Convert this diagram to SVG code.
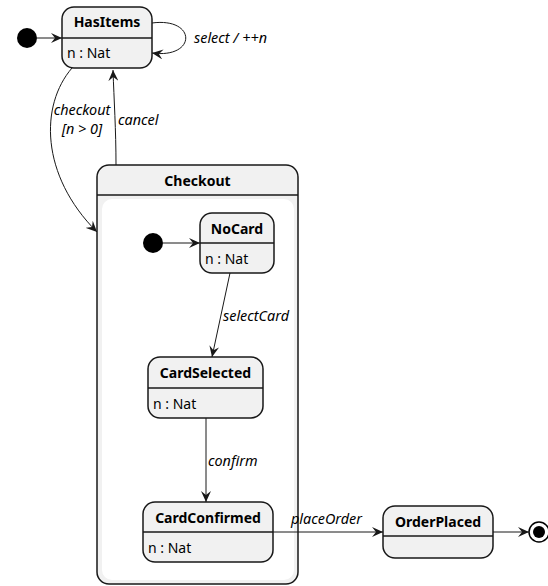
<svg xmlns="http://www.w3.org/2000/svg" width="548" height="586" viewBox="0 0 548 586">
<defs>
<style>
.st{fill:#F1F1F1;stroke:#181818;stroke-width:1.5}
.sep{stroke:#181818;stroke-width:1.5}
.nm{font-family:"Noto Sans",sans-serif;font-size:14px;font-weight:bold;fill:#000;text-anchor:middle}
.at{font-family:"Noto Sans",sans-serif;font-size:14px;fill:#000}
.lb{font-family:"Noto Sans",sans-serif;font-size:14.4px;font-style:italic;fill:#000}
.cn{fill:none;stroke:#181818;stroke-width:1}
</style>
<marker id="ar" viewBox="0 0 12 10" refX="11" refY="5" markerWidth="12" markerHeight="10" markerUnits="userSpaceOnUse" orient="auto">
<path d="M0,0 L11,5 L0,10 L4,5 Z" fill="#181818"/>
</marker>
</defs>
<g id="start1"><circle cx="27" cy="38" r="10" fill="#000"/></g>
<g id="HasItems">
<rect class="st" x="62" y="7" width="90" height="61" rx="12"/>
<line class="sep" x1="62" y1="38" x2="152" y2="38"/>
<text class="nm" x="107" y="27">HasItems</text>
<text class="at" x="67" y="58">n : Nat</text>
</g>
<g id="Checkout">
<rect class="st" x="97" y="165" width="201" height="419" rx="12"/>
<line class="sep" x1="97" y1="195" x2="298" y2="195"/>
<rect x="102" y="199" width="192" height="381" rx="10" fill="#FFFFFF"/>
<text class="nm" x="197.5" y="186">Checkout</text>
</g>
<g id="start2"><circle cx="153" cy="243" r="10" fill="#000"/></g>
<g id="NoCard">
<rect class="st" x="200" y="213" width="74" height="60" rx="12"/>
<line class="sep" x1="200" y1="243" x2="274" y2="243"/>
<text class="nm" x="237" y="234">NoCard</text>
<text class="at" x="205" y="264">n : Nat</text>
</g>
<g id="CardSelected">
<rect class="st" x="148" y="357" width="115" height="61" rx="12"/>
<line class="sep" x1="148" y1="388" x2="263" y2="388"/>
<text class="nm" x="205.5" y="378">CardSelected</text>
<text class="at" x="153" y="409">n : Nat</text>
</g>
<g id="CardConfirmed">
<rect class="st" x="143" y="502" width="130" height="60" rx="12"/>
<line class="sep" x1="143" y1="532" x2="273" y2="532"/>
<text class="nm" x="208" y="523">CardConfirmed</text>
<text class="at" x="148" y="553">n : Nat</text>
</g>
<g id="OrderPlaced">
<rect class="st" x="383" y="506" width="110" height="52" rx="12"/>
<line class="sep" x1="383" y1="536" x2="493" y2="536"/>
<text class="nm" x="438" y="527">OrderPlaced</text>
</g>
<g id="end"><circle cx="539" cy="532" r="10" fill="none" stroke="#000" stroke-width="1.5"/><circle cx="539" cy="532" r="6" fill="#000"/></g>
<g id="connectors">
<path class="cn" d="M37,38 L62,38" marker-end="url(#ar)"/>
<path class="cn" d="M152,23 C197,17 197,59 152,53" marker-end="url(#ar)"/>
<text class="lb" x="194" y="43">select / ++n</text>
<path class="cn" d="M72,68 C40,105 40,175 97,232" marker-end="url(#ar)"/>
<text class="lb" x="82" y="115" text-anchor="middle">checkout</text>
<text class="lb" x="82" y="134" text-anchor="middle">[n &gt; 0]</text>
<path class="cn" d="M116,165 C116,130 114,100 113,70" marker-end="url(#ar)"/>
<text class="lb" x="118" y="125">cancel</text>
<path class="cn" d="M163,243 L200,243" marker-end="url(#ar)"/>
<path class="cn" d="M230,273 L212,357" marker-end="url(#ar)"/>
<text class="lb" x="223" y="321">selectCard</text>
<path class="cn" d="M206,418 L206,502" marker-end="url(#ar)"/>
<text class="lb" x="208" y="466">confirm</text>
<path class="cn" d="M273,532 L383,532" marker-end="url(#ar)"/>
<text class="lb" x="291" y="524">placeOrder</text>
<path class="cn" d="M493,532 L529,532" marker-end="url(#ar)"/>
</g>
</svg>
